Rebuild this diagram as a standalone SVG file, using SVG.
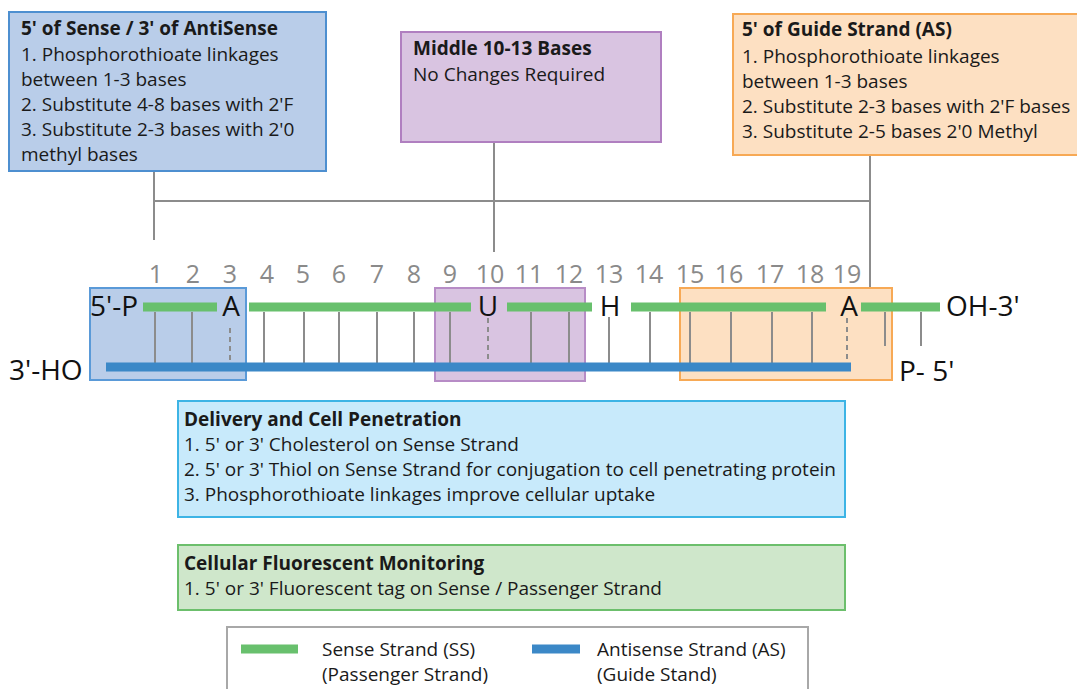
<svg xmlns="http://www.w3.org/2000/svg" width="1077" height="689" viewBox="0 0 1077 689">
<style>
.t{font-family:"Open Sans","Liberation Sans",sans-serif;font-size:19px;fill:#1a1a1a}
.b{font-weight:bold}
.num{font-family:"Open Sans","Liberation Sans",sans-serif;font-size:25px;fill:#8a8a8a;text-anchor:middle}
.lab{font-family:"Open Sans","Liberation Sans",sans-serif;font-size:28px;fill:#111}
.rung{stroke:#8c8c8c;stroke-width:2}
.dash{stroke:#8c8c8c;stroke-width:2;stroke-dasharray:5 4}
.conn{stroke:#8c8c8c;stroke-width:2;fill:none}
.ss{stroke:#68c06d;stroke-width:9}
.as{stroke:#3b88c7;stroke-width:9}
</style>
<rect width="1077" height="689" fill="#ffffff"/>

<g id="connectors">
<line class="conn" x1="154" y1="171" x2="154" y2="240"/>
<line class="conn" x1="154" y1="201" x2="870" y2="201"/>
<line class="conn" x1="494" y1="142" x2="494" y2="252"/>
<line class="conn" x1="870" y1="155" x2="870" y2="288"/>
</g>

<g id="box-sense5">
<rect x="9" y="12" width="317" height="159" fill="#b9cde9" stroke="#4d8fd0" stroke-width="2"/>
<text class="t b" x="21" y="35">5' of Sense / 3' of AntiSense</text>
<text class="t" x="21" y="61">1. Phosphorothioate linkages</text>
<text class="t" x="21" y="86">between 1-3 bases</text>
<text class="t" x="21" y="111">2. Substitute 4-8 bases with 2'F</text>
<text class="t" x="21" y="136">3. Substitute 2-3 bases with 2'0</text>
<text class="t" x="21" y="161">methyl bases</text>
</g>

<g id="box-middle">
<rect x="401" y="32" width="260" height="110" fill="#d9c4e1" stroke="#b07fc0" stroke-width="2"/>
<text class="t b" x="413" y="55">Middle 10-13 Bases</text>
<text class="t" x="413" y="81">No Changes Required</text>
</g>

<g id="box-guide5">
<rect x="733" y="14" width="350" height="141" fill="#fde0c2" stroke="#f7a955" stroke-width="2"/>
<text class="t b" x="742" y="36">5' of Guide Strand (AS)</text>
<text class="t" x="742" y="63">1. Phosphorothioate linkages</text>
<text class="t" x="742" y="88">between 1-3 bases</text>
<text class="t" x="742" y="113">2. Substitute 2-3 bases with 2'F bases</text>
<text class="t" x="742" y="138">3. Substitute 2-5 bases 2'0 Methyl</text>
</g>

<g id="regions">
<rect x="90" y="288" width="156" height="92" fill="#b9cde9" stroke="#5a9ad8" stroke-width="2"/>
<rect x="435" y="288" width="150" height="93" fill="#d9c4e1" stroke="#b78cc6" stroke-width="2"/>
<rect x="680" y="288" width="212" height="92" fill="#fde0c2" stroke="#f7a955" stroke-width="2"/>
</g>

<g id="numbers">
<text class="num" x="156" y="283">1</text>
<text class="num" x="193" y="283">2</text>
<text class="num" x="230" y="283">3</text>
<text class="num" x="267" y="283">4</text>
<text class="num" x="303" y="283">5</text>
<text class="num" x="339" y="283">6</text>
<text class="num" x="377" y="283">7</text>
<text class="num" x="414" y="283">8</text>
<text class="num" x="450" y="283">9</text>
<text class="num" x="490" y="283">10</text>
<text class="num" x="529" y="283">11</text>
<text class="num" x="569" y="283">12</text>
<text class="num" x="609" y="283">13</text>
<text class="num" x="649" y="283">14</text>
<text class="num" x="690" y="283">15</text>
<text class="num" x="729" y="283">16</text>
<text class="num" x="770" y="283">17</text>
<text class="num" x="810" y="283">18</text>
<text class="num" x="847" y="283">19</text>
</g>

<g id="rungs">
<line class="rung" x1="155" y1="312" x2="155" y2="363"/>
<line class="rung" x1="192" y1="312" x2="192" y2="363"/>
<line class="dash" x1="230" y1="328" x2="230" y2="360"/>
<line class="rung" x1="264" y1="312" x2="264" y2="363"/>
<line class="rung" x1="304" y1="312" x2="304" y2="363"/>
<line class="rung" x1="339" y1="312" x2="339" y2="363"/>
<line class="rung" x1="377" y1="312" x2="377" y2="363"/>
<line class="rung" x1="414" y1="312" x2="414" y2="363"/>
<line class="rung" x1="450" y1="312" x2="450" y2="363"/>
<line class="dash" x1="488" y1="318" x2="488" y2="360"/>
<line class="rung" x1="531" y1="312" x2="531" y2="363"/>
<line class="rung" x1="569" y1="312" x2="569" y2="363"/>
<line class="rung" x1="609" y1="317" x2="609" y2="363"/>
<line class="rung" x1="650" y1="312" x2="650" y2="363"/>
<line class="rung" x1="690" y1="312" x2="690" y2="363"/>
<line class="rung" x1="731" y1="312" x2="731" y2="363"/>
<line class="rung" x1="772" y1="312" x2="772" y2="363"/>
<line class="rung" x1="812" y1="312" x2="812" y2="363"/>
<line class="dash" x1="847" y1="318" x2="847" y2="360"/>
<line class="rung" x1="885" y1="312" x2="885" y2="346"/>
<line class="rung" x1="921" y1="312" x2="921" y2="346"/>
</g>

<g id="sense-strand">
<line class="ss" x1="143" y1="307" x2="217" y2="307"/>
<line class="ss" x1="249" y1="307" x2="471" y2="307"/>
<line class="ss" x1="507" y1="307" x2="592" y2="307"/>
<line class="ss" x1="631" y1="307" x2="826" y2="307"/>
<line class="ss" x1="861" y1="307" x2="940" y2="307"/>
</g>

<g id="antisense-strand">
<line class="as" x1="106" y1="367" x2="851" y2="367"/>
</g>

<g id="labels">
<text class="lab" x="90" y="316">5'-P</text>
<text class="lab" x="231" y="316" text-anchor="middle">A</text>
<text class="lab" x="488" y="316" text-anchor="middle">U</text>
<text class="lab" x="610" y="316" text-anchor="middle">H</text>
<text class="lab" x="849" y="316" text-anchor="middle">A</text>
<text class="lab" x="946" y="316">OH-3'</text>
<text class="lab" x="9" y="380">3'-HO</text>
<text class="lab" x="899" y="381">P- 5'</text>
</g>

<g id="box-delivery">
<rect x="178" y="401" width="667" height="116" fill="#c8eafb" stroke="#3db4e5" stroke-width="2"/>
<text class="t b" x="184" y="426">Delivery and Cell Penetration</text>
<text class="t" x="184" y="451">1. 5' or 3' Cholesterol on Sense Strand</text>
<text class="t" x="184" y="476">2. 5' or 3' Thiol on Sense Strand for conjugation to cell penetrating protein</text>
<text class="t" x="184" y="501">3. Phosphorothioate linkages improve cellular uptake</text>
</g>

<g id="box-fluorescent">
<rect x="178" y="545" width="667" height="65" fill="#cfe7cb" stroke="#6cbf6c" stroke-width="2"/>
<text class="t b" x="184" y="570">Cellular Fluorescent Monitoring</text>
<text class="t" x="184" y="595">1. 5' or 3' Fluorescent tag on Sense / Passenger Strand</text>
</g>

<g id="legend">
<rect x="227" y="627" width="581" height="70" fill="#ffffff" stroke="#a8a8a8" stroke-width="2"/>
<line class="ss" x1="241" y1="649" x2="298" y2="649"/>
<text class="t" x="322" y="656">Sense Strand (SS)</text>
<text class="t" x="322" y="681">(Passenger Strand)</text>
<line class="as" x1="532" y1="649" x2="580" y2="649"/>
<text class="t" x="597" y="656">Antisense Strand (AS)</text>
<text class="t" x="597" y="681">(Guide Stand)</text>
</g>
</svg>
